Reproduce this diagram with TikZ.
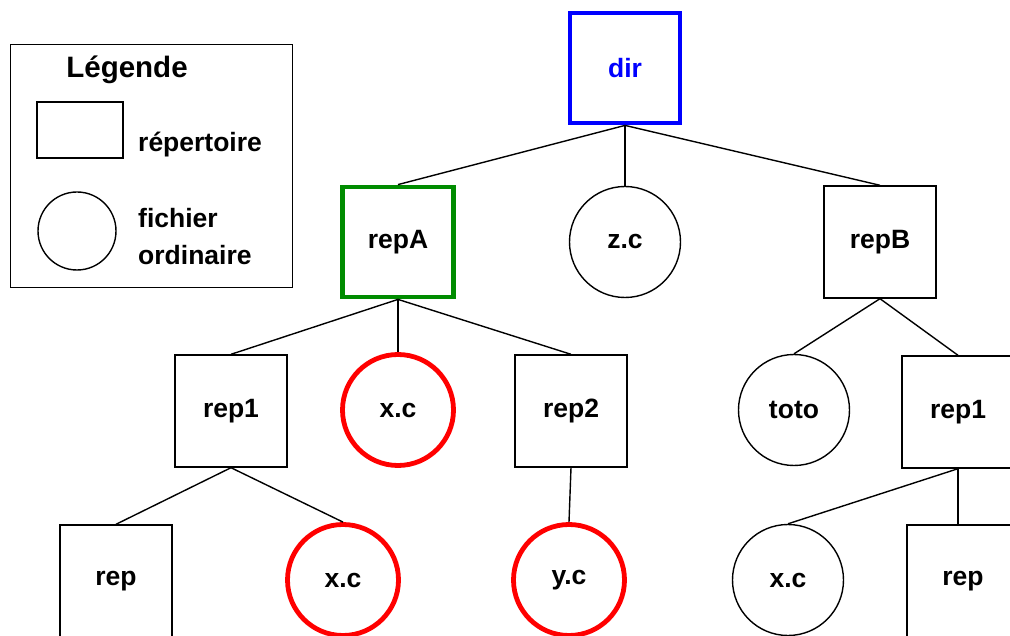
\documentclass[tikz,border=0pt]{standalone}
\usepackage{fontspec}
\setmainfont{Liberation Sans}
\begin{document}
\begin{tikzpicture}[x=1pt,y=-1pt,
  lbl/.style={font=\fontsize{26.5}{31}\selectfont\bfseries},
  dirbox/.style={draw, line width=1.4pt, minimum width=112pt, minimum height=112pt, inner sep=0pt, lbl},
  filec/.style={draw, circle, line width=1.4pt, minimum size=111pt, inner sep=0pt, lbl},
  hot/.style={line width=4.8pt},
  edge/.style={line width=1.4pt}]
\useasboundingbox (0,0) rectangle (1010,636);
% legend
\node[draw, line width=1pt, minimum width=282pt, minimum height=243pt, inner sep=0pt] (leg) at (151,166.5) {};
\node[font=\fontsize{29.5}{34}\selectfont\bfseries] (legt) at (127,70) {Légende};
\node[draw, line width=1.4pt, minimum width=86pt, minimum height=56pt, inner sep=0pt] (legr) at (80,130) {};
\node[lbl, anchor=west, inner sep=0pt] (legrt) at (138,145) {répertoire};
\node[draw, circle, line width=1.4pt, minimum size=78pt, inner sep=0pt] (legc) at (77,231) {};
\node[lbl, anchor=west, inner sep=0pt, align=left] (legct) at (138,237) {fichier\\[6pt]ordinaire};
% tree
\node[dirbox, hot, draw=blue, text=blue, minimum width=110pt, minimum height=110pt] (dir) at (625,68) {dir};
\node[dirbox, hot, draw=green!55!black, minimum width=111pt, minimum height=110pt] (repA) at (398,242) {repA};
\node[filec] (zc) at (625,242) {z.c};
\node[dirbox] (repB) at (880,242) {repB};
\node[dirbox] (rep1) at (231,411) {rep1};
\node[filec, hot, draw=red] (xc1) at (398,410) {x.c};
\node[dirbox] (rep2) at (571,411) {rep2};
\node[filec, hot, draw=red] (yc) at (569,580) {y.c};
\node[filec] (toto) at (794,410) {toto};
\node[dirbox] (rep1r) at (958,412) {rep1};
\node[dirbox] (rep) at (116,581) {rep};
\node[filec, hot, draw=red] (xc2) at (343,580) {x.c};
\node[filec] (xc3) at (788,580) {x.c};
\node[dirbox] (repr) at (963,581) {rep};
% edges
\draw[edge] (dir.south) -- (repA.north);
\draw[edge] (dir.south) -- (zc.north);
\draw[edge] (dir.south) -- (repB.north);
\draw[edge] (repA.south) -- (rep1.north);
\draw[edge] (repA.south) -- (xc1.north);
\draw[edge] (repA.south) -- (rep2.north);
\draw[edge] (repB.south) -- (toto.north);
\draw[edge] (repB.south) -- (rep1r.north);
\draw[edge] (rep1.south) -- (rep.north);
\draw[edge] (rep1.south) -- (xc2.north);
\draw[edge] (rep2.south) -- (yc.north);
\draw[edge] (rep1r.south) -- (xc3.north);
\draw[edge] (rep1r.south) -- (rep1r.south |- repr.north);
\end{tikzpicture}
\end{document}
